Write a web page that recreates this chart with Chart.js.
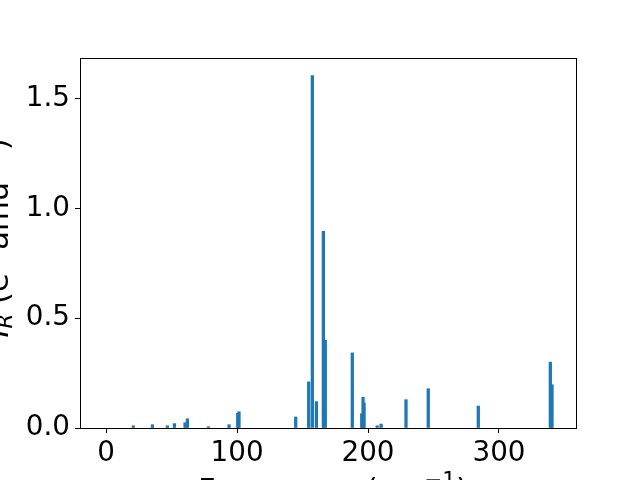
<!DOCTYPE html>
<html>
<head>
<meta charset="utf-8">
<script src="https://cdn.jsdelivr.net/npm/chart.js@4/dist/chart.umd.min.js"></script>
<style>
  html, body { margin: 0; padding: 0; background: #fff; }
  #wrap { width: 640px; height: 480px; }
</style>
</head>
<body>
<div id="wrap"><canvas id="chart" width="640" height="480"></canvas></div>
<script>
// mode frequencies (cm^-1) and IR intensities
var freqs = [20.8, 35.4, 46.8, 52.2, 60.3, 62.1, 78.1, 93.9, 100.5, 101.5,
             144.8, 154.7, 157.5, 160.6, 165.9, 167.4, 188.0, 195.2, 196.2, 197.0,
             207.0, 210.0, 229.0, 246.0, 284.2, 339.2, 340.5];
var intensities = [0.010, 0.015, 0.010, 0.020, 0.024, 0.042, 0.006, 0.015, 0.067, 0.074,
                   0.050, 0.210, 1.605, 0.120, 0.896, 0.400, 0.342, 0.065, 0.140, 0.114,
                   0.010, 0.018, 0.129, 0.179, 0.100, 0.300, 0.197];
var xTicks = [0, 100, 200, 300];
var yTicks = [0, 0.5, 1.0, 1.5];

var FONT = '"DejaVu Sans"';
var FS = 27.8;      // tick labels
var LFS = 30.6;     // axis labels

var points = [];
for (var i = 0; i < freqs.length; i++) {
    points.push({ x: freqs[i], y: intensities[i] });
}

// draws the frame and the two axis labels (with sub/superscripts)
var framePlugin = {
    id: 'frame',
    afterDraw: function (chart) {
        var ctx = chart.ctx;
        var a = chart.chartArea;
        ctx.save();
        ctx.strokeStyle = '#000';
        ctx.lineWidth = 1;
        ctx.strokeRect(Math.round(a.left) + 0.5, Math.round(a.top) + 0.5,
                       Math.round(a.right - a.left), Math.round(a.bottom - a.top));
        ctx.restore();

        drawLabel(ctx, [
            { t: 'Frequency (cm' },
            { t: '\u22121', sup: true },
            { t: ')' }
        ], 333, 500, 0);

        drawLabel(ctx, [
            { t: 'I', it: true },
            { t: 'R', it: true, sub: true },
            { t: ' (e' },
            { t: '2', sup: true },
            { t: ' amu' },
            { t: '\u22121', sup: true },
            { t: ')' }
        ], 8, 238, -Math.PI / 2);
    }
};

function partFont(p) {
    var size = (p.sub || p.sup) ? LFS * 0.7 : LFS;
    return (p.it ? 'italic ' : '') + size + 'px ' + FONT;
}

function drawLabel(ctx, parts, cx, cy, rot) {
    ctx.save();
    ctx.translate(cx, cy);
    ctx.rotate(rot);
    ctx.fillStyle = '#000';
    ctx.textBaseline = 'alphabetic';
    ctx.textAlign = 'left';
    var total = 0;
    parts.forEach(function (p) {
        ctx.font = partFont(p);
        total += ctx.measureText(p.t).width;
    });
    var x = -total / 2;
    parts.forEach(function (p) {
        ctx.font = partFont(p);
        var dy = 0;
        if (p.sub) dy = LFS * 0.12;
        if (p.sup) dy = -LFS * 0.43;
        ctx.fillText(p.t, x, dy);
        x += ctx.measureText(p.t).width;
    });
    ctx.restore();
}

new Chart(document.getElementById('chart'), {
    type: 'bar',
    data: {
        datasets: [{
            data: points,
            backgroundColor: '#1f77b4',
            borderWidth: 0,
            barThickness: 2.6
        }]
    },
    options: {
        responsive: false,
        animation: false,
        events: [],
        layout: { padding: { left: 0, top: 58, right: 64, bottom: 0 } },
        plugins: {
            legend: { display: false },
            tooltip: { enabled: false },
            title: { display: false }
        },
        scales: {
            x: {
                type: 'linear',
                min: -19.9,
                max: 358.8,
                offset: false,
                afterBuildTicks: function (s) {
                    s.ticks = xTicks.map(function (v) { return { value: v }; });
                },
                afterFit: function (s) { s.height = 52; },
                grid: {
                    offset: false,
                    drawOnChartArea: false,
                    drawTicks: true,
                    tickLength: 5,
                    color: '#000',
                    lineWidth: 1
                },
                border: { display: false },
                ticks: {
                    padding: 4,
                    maxRotation: 0,
                    color: '#000',
                    font: { family: FONT, size: FS },
                    callback: function (v) { return String(v); }
                }
            },
            y: {
                min: 0,
                max: 1.685,
                afterBuildTicks: function (s) {
                    s.ticks = yTicks.map(function (v) { return { value: v }; });
                },
                afterFit: function (s) { s.width = 80; },
                grid: {
                    drawOnChartArea: false,
                    drawTicks: true,
                    tickLength: 5,
                    color: '#000',
                    lineWidth: 1
                },
                border: { display: false },
                ticks: {
                    padding: 5,
                    color: '#000',
                    font: { family: FONT, size: FS },
                    callback: function (v) { return Number(v).toFixed(1); }
                }
            }
        }
    },
    plugins: [framePlugin]
});
</script>
</body>
</html>
